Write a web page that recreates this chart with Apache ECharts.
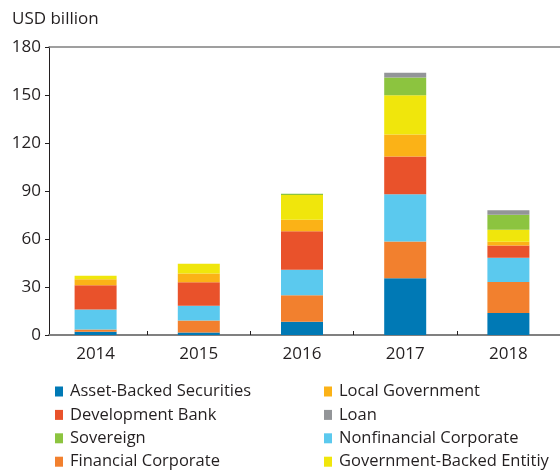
<!DOCTYPE html>
<html>
<head>
<meta charset="utf-8">
<script src="https://cdn.jsdelivr.net/npm/echarts@6/dist/echarts.min.js"></script>
<style>
  html, body { margin: 0; padding: 0; background: #fff; }
  #chart { width: 560px; height: 470px; }
</style>
</head>
<body>
<div id="chart"></div>
<script>
var years = ['2014', '2015', '2016', '2017', '2018'];

// stacked bottom -> top
var assetBacked   = [2.0, 1.6, 8.3, 35.4, 13.7];
var financialCorp = [1.4, 7.5, 16.5, 23.0, 19.4];
var nonfinCorp    = [12.5, 9.2, 16.0, 29.6, 15.2];
var devBank       = [15.2, 14.6, 24.0, 23.5, 7.7];
var localGov      = [3.8, 5.6, 7.2, 13.8, 2.3];
var govBacked     = [2.1, 6.1, 15.5, 24.6, 7.5];
var sovereign     = [0, 0, 0.8, 11.0, 9.4];
var loan          = [0, 0, 0, 3.0, 2.7];

var yTicks = [0, 30, 60, 90, 120, 150, 180];

var FONT = 'Open Sans';
var TXT = '#231f20';

function initChart() {
    var chart = echarts.init(document.getElementById('chart'));

    function bar(name, data, color) {
        return {
            name: name,
            type: 'bar',
            stack: 'total',
            xAxisIndex: 0,
            yAxisIndex: 0,
            barWidth: 42,
            animation: false,
            itemStyle: { color: color },
            data: data
        };
    }

    var legendBase = {
        orient: 'vertical',
        top: 383,
        height: 110,
        padding: 0,
        itemWidth: 8,
        itemHeight: 10,
        itemGap: 6.4,
        icon: 'rect',
        selectedMode: false,
        textStyle: { fontFamily: FONT, fontSize: 16.5, lineHeight: 16, color: TXT, padding: [0, 0, 0, 2] }
    };

    chart.setOption({
        textStyle: { fontFamily: FONT },
        graphic: [{
            type: 'text',
            left: 12,
            top: 11,
            style: { text: 'USD billion', font: '17px "Open Sans"', fill: TXT }
        }],
        legend: [
            Object.assign({}, legendBase, {
                left: 55,
                data: ['Asset-Backed Securities', 'Development Bank', 'Sovereign', 'Financial Corporate']
            }),
            Object.assign({}, legendBase, {
                left: 324,
                data: ['Local Government', 'Loan', 'Nonfinancial Corporate', 'Government-Backed Entitiy']
            })
        ],
        grid: [
            { left: 44, top: 47, width: 525, height: 288 },
            { left: 49, top: 47, right: 0, height: 288 }
        ],
        xAxis: [
            {
                type: 'category',
                gridIndex: 0,
                data: years,
                axisLine: { show: false },
                axisTick: {
                    show: true, inside: true, length: 4,
                    interval: function (i) { return i > 0; },
                    lineStyle: { color: '#231f20', width: 1 }
                },
                axisLabel: { fontFamily: FONT, fontSize: 17, color: TXT, margin: 11 }
            },
            {
                type: 'value', gridIndex: 1, min: 0, max: 1, position: 'bottom',
                axisLine: { show: true, lineStyle: { color: '#808080', width: 2 } },
                axisTick: { show: false }, axisLabel: { show: false }, splitLine: { show: false }
            },
            {
                type: 'value', gridIndex: 1, min: 0, max: 1, position: 'top',
                axisLine: { show: true, lineStyle: { color: '#808080', width: 1.5 } },
                axisTick: { show: false }, axisLabel: { show: false }, splitLine: { show: false }
            }
        ],
        yAxis: [
            {
                type: 'value', gridIndex: 0, min: 0, max: 180, interval: 30,
                show: false
            },
            {
                type: 'value', gridIndex: 1, min: yTicks[0], max: yTicks[yTicks.length - 1], interval: 30,
                axisLine: { show: true, lineStyle: { color: '#231f20', width: 1 } },
                axisTick: { show: true, length: 4, lineStyle: { color: '#231f20' } },
                axisLabel: { fontFamily: FONT, fontSize: 17, color: TXT, margin: 8 },
                splitLine: { show: false }
            }
        ],
        series: [
            bar('Asset-Backed Securities', assetBacked, '#0079b5'),
            bar('Financial Corporate', financialCorp, '#f2802e'),
            bar('Nonfinancial Corporate', nonfinCorp, '#5bc9ee'),
            bar('Development Bank', devBank, '#e9522b'),
            bar('Local Government', localGov, '#fbb217'),
            bar('Government-Backed Entitiy', govBacked, '#f0e60c'),
            bar('Sovereign', sovereign, '#8cc43f'),
            bar('Loan', loan, '#939598')
        ]
    });
}

initChart();
</script>
</body>
</html>
